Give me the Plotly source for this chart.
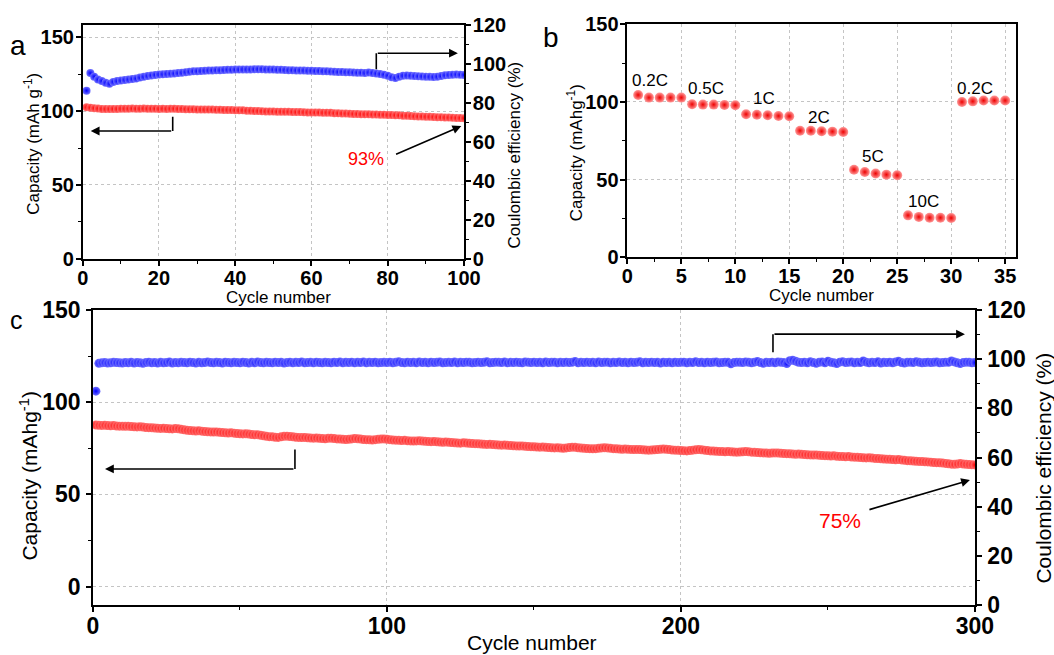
import plotly.graph_objects as go

# ---------------- data ----------------
# (a) 100-cycle test: discharge capacity (mAh/g) and coulombic efficiency (%)
cap_a = [
    102.6, 102.3, 102.0, 101.7, 101.5, 101.4, 101.4, 101.5, 101.5, 101.6,
    101.6, 101.6, 101.7, 101.6, 101.6, 101.7, 101.6, 101.6, 101.6, 101.5,
    101.6, 101.5, 101.6, 101.6, 101.5, 101.4, 101.3, 101.2, 101.2, 101.1,
    101.1, 101.0, 101.0, 101.0, 100.9, 100.9, 100.8, 100.8, 100.7, 100.6,
    100.5, 100.5, 100.3, 100.2, 100.1, 100.0, 99.9, 99.8, 99.8, 99.7,
    99.6, 99.6, 99.5, 99.5, 99.4, 99.3, 99.3, 99.2, 99.1, 99.1,
    99.0, 99.0, 98.9, 98.9, 98.8, 98.6, 98.5, 98.4, 98.3, 98.2,
    98.1, 98.0, 97.9, 97.8, 97.8, 97.7, 97.7, 97.6, 97.5, 97.4,
    97.3, 97.2, 97.1, 96.9, 96.8, 96.7, 96.5, 96.4, 96.3, 96.2,
    96.1, 96.0, 95.9, 95.8, 95.7, 95.6, 95.5, 95.4, 95.3, 95.2,
]
ce_a = [
    86.3, 95.3, 93.5, 92.0, 91.2, 90.3, 89.8, 90.8, 91.2, 91.5,
    91.8, 92.0, 92.3, 92.5, 93.0, 93.4, 93.8, 94.1, 94.4, 94.6,
    94.7, 94.9, 95.0, 95.1, 95.3, 95.5, 95.8, 96.0, 96.2, 96.3,
    96.4, 96.5, 96.6, 96.7, 96.8, 96.8, 96.9, 97.0, 97.0, 97.1,
    97.1, 97.2, 97.2, 97.2, 97.3, 97.3, 97.3, 97.2, 97.2, 97.1,
    97.0, 97.0, 96.9, 96.8, 96.8, 96.7, 96.7, 96.6, 96.5, 96.5,
    96.4, 96.4, 96.3, 96.2, 96.1, 96.0, 95.9, 95.9, 95.8, 95.7,
    95.6, 95.5, 95.5, 95.4, 95.6, 95.4, 95.1, 94.8, 94.5, 94.0,
    93.2, 92.8, 93.5, 94.0, 94.1, 94.0, 93.8, 93.7, 93.6, 93.5,
    93.4, 93.3, 93.5, 93.8, 94.2, 94.4, 94.5, 94.6, 94.5, 94.4,
]
cycles_a = list(range(1, len(cap_a) + 1))

# (b) rate capability, 5 cycles per C-rate
cap_b = [
    104.5, 102.8, 102.8, 102.8, 102.8,
    98.5, 98.3, 98.3, 98.1, 97.9,
    92.1, 91.8, 91.4, 91.0, 90.8,
    81.5, 81.5, 81.1, 80.9, 80.7,
    56.4, 54.9, 53.9, 53.2, 52.8,
    27.0, 26.0, 25.5, 25.5, 25.3,
    100.0, 100.4, 100.9, 100.9, 100.9,
]
cycles_b = list(range(1, len(cap_b) + 1))
rate_labels = ["0.2C", "0.5C", "1C", "2C", "5C", "10C", "0.2C"]
rate_label_x = [2.1, 7.3, 12.7, 17.8, 22.8, 27.4, 32.2]
rate_label_y = [114, 108.8, 102.4, 90.1, 64.8, 35.8, 108.8]

# (c) 300-cycle test: capacity (mAh/g) and coulombic efficiency (%)
cap_c = [
    87.6, 87.5, 87.4, 87.5, 87.3, 87.2, 87.3, 87.1, 87.0, 87.0,
    86.9, 87.0, 86.8, 86.7, 86.6, 86.7, 86.5, 86.3, 86.2, 86.1,
    86.0, 85.9, 85.8, 85.9, 85.7, 85.6, 85.5, 85.7, 85.6, 85.3,
    85.0, 84.8, 84.6, 84.5, 84.4, 84.5, 84.3, 84.1, 84.0, 83.9,
    83.8, 83.9, 83.7, 83.5, 83.4, 83.3, 83.4, 83.2, 83.0, 82.9,
    82.8, 82.9, 82.7, 82.5, 82.3, 82.4, 82.1, 81.8, 81.5, 81.3,
    81.2, 81.0, 80.9, 81.2, 81.5, 81.6, 81.4, 81.2, 81.0, 80.9,
    80.8, 80.9, 80.7, 80.6, 80.5, 80.6, 80.4, 80.3, 80.2, 80.4,
    80.5, 80.3, 80.1, 80.0, 79.9, 79.8, 79.9, 80.1, 80.3, 80.2,
    80.0, 79.8, 79.7, 79.6, 79.5, 79.7, 79.9, 80.0, 80.1, 79.9,
    79.7, 79.5, 79.4, 79.3, 79.2, 79.3, 79.1, 79.0, 78.9, 79.0,
    79.1, 78.9, 78.8, 78.7, 78.6, 78.7, 78.5, 78.4, 78.3, 78.4,
    78.3, 78.1, 78.0, 77.9, 77.8, 78.0, 77.9, 77.7, 77.6, 77.5,
    77.4, 77.3, 77.2, 77.1, 77.2, 77.0, 76.9, 76.8, 76.7, 76.8,
    76.6, 76.5, 76.4, 76.3, 76.2, 76.3, 76.1, 76.0, 75.9, 75.8,
    75.7, 75.6, 75.7, 75.5, 75.4, 75.3, 75.2, 75.3, 75.1, 75.0,
    75.2, 75.4, 75.6, 75.5, 75.3, 75.1, 75.0, 74.9, 74.8, 74.7,
    74.8, 75.0, 75.2, 75.3, 75.2, 75.0, 74.8, 74.7, 74.6, 74.5,
    74.6, 74.5, 74.4, 74.3, 74.4, 74.3, 74.2, 74.1, 74.0, 74.1,
    74.2, 74.3, 74.5, 74.6, 74.5, 74.3, 74.1, 74.0, 73.9, 73.8,
    73.7, 73.6, 73.8, 74.0, 74.2, 74.3, 74.2, 74.0, 73.8, 73.6,
    73.5, 73.4, 73.3, 73.2, 73.1, 73.2, 73.1, 73.0, 72.9, 73.0,
    73.1, 73.2, 73.1, 72.9, 72.8, 72.7, 72.6, 72.5, 72.4, 72.3,
    72.4, 72.5, 72.4, 72.3, 72.2, 72.1, 72.0, 71.9, 71.8, 71.9,
    71.8, 71.6, 71.5, 71.4, 71.3, 71.4, 71.2, 71.1, 71.0, 70.9,
    70.8, 70.9, 70.7, 70.6, 70.5, 70.4, 70.5, 70.3, 70.2, 70.1,
    70.0, 69.9, 69.8, 69.9, 69.7, 69.5, 69.4, 69.3, 69.2, 69.1,
    69.0, 68.9, 68.8, 68.9, 68.7, 68.5, 68.3, 68.2, 68.1, 68.0,
    67.9, 67.8, 67.7, 67.6, 67.5, 67.3, 67.2, 67.1, 67.0, 66.8,
    66.6, 66.4, 66.3, 66.5, 66.7, 66.5, 66.3, 66.2, 66.1, 66.0,
]
ce_c = [
    87.0, 98.3, 98.5, 98.6, 98.4, 98.5, 98.7, 98.6, 98.5, 98.4,
    98.6, 98.5, 98.7, 98.4, 98.6, 98.5, 98.3, 98.6, 98.8, 98.5,
    98.6, 98.4, 98.7, 98.5, 98.6, 98.9, 98.4, 98.6, 98.5, 98.7,
    98.6, 98.5, 98.8, 98.6, 98.4, 98.7, 98.5, 98.6, 98.9, 98.6,
    98.5, 98.7, 98.6, 98.4, 98.8, 98.6, 98.5, 98.7, 98.6, 98.5,
    98.8, 98.6, 98.4, 98.7, 98.5, 98.9, 98.6, 98.5, 98.7, 98.6,
    98.5, 98.8, 98.6, 98.7, 98.4, 98.6, 98.8, 98.5, 98.7, 98.6,
    98.9, 98.5, 98.6, 98.7, 98.5, 98.8, 98.6, 98.5, 98.7, 98.6,
    98.5, 98.8, 98.6, 98.9, 98.5, 98.7, 98.6, 98.8, 98.5, 98.7,
    98.6, 98.9, 98.5, 98.7, 98.6, 98.8, 98.5, 98.6, 98.7, 98.6,
    98.8, 98.5, 98.7, 99.0, 98.6, 98.5, 98.8, 98.6, 98.7, 98.5,
    98.9, 98.6, 98.7, 98.5, 98.8, 98.6, 98.7, 98.9, 98.5, 98.6,
    98.7, 98.6, 98.9, 98.5, 98.7, 98.6, 98.8, 98.7, 98.5, 98.6,
    98.8, 98.6, 98.7, 99.0, 98.5, 98.6, 98.8, 98.7, 98.6, 98.9,
    98.5, 98.7, 98.6, 98.8, 98.6, 98.5, 98.9, 98.7, 98.6, 98.8,
    98.6, 98.7, 98.5, 98.9, 98.6, 98.7, 98.8, 98.5, 98.7, 98.6,
    98.8, 98.6, 98.7, 99.1, 98.5, 98.7, 98.6, 98.8, 98.6, 98.7,
    98.5, 98.9, 98.6, 98.7, 98.8, 98.5, 98.7, 98.6, 98.9, 98.6,
    98.7, 98.5, 98.8, 98.6, 98.7, 99.0, 98.5, 98.7, 98.6, 98.8,
    98.6, 98.7, 98.4, 98.8, 98.6, 98.7, 98.5, 98.8, 98.6, 98.7,
    98.8, 98.5, 98.7, 98.6, 99.0, 98.6, 98.7, 98.5, 98.8, 98.6,
    98.7, 98.9, 98.5, 98.6, 98.8, 98.7, 98.1, 98.6, 98.8, 98.7,
    98.6, 98.9, 98.7, 98.5, 98.8, 99.1, 98.6, 98.3, 98.7, 98.6,
    98.8, 98.5, 98.9, 98.7, 98.6, 98.2, 99.4, 99.6, 99.2, 98.7,
    98.6, 98.8, 98.5, 99.0, 98.6, 98.3, 98.7, 98.9, 98.5, 99.2,
    98.7, 98.5, 98.2, 98.8, 99.0, 98.6, 98.7, 98.9, 98.5, 98.7,
    98.6, 99.3, 98.8, 98.5, 98.7, 98.6, 99.0, 98.4, 98.7, 98.6,
    98.8, 98.5, 98.9, 99.2, 98.6, 98.4, 98.7, 98.8, 98.6, 99.0,
    98.7, 98.5, 98.6, 98.8, 98.6, 98.7, 98.9, 98.5, 98.6, 98.8,
    98.7, 99.3, 98.9, 98.5, 98.2, 98.6, 98.8, 98.7, 98.5, 98.6,
]
cycles_c = list(range(1, len(cap_c) + 1))

# ---------------- styling helpers ----------------
FONT = "Liberation Sans"
RED = "#ff0000"
BLUE = "#0000ff"
GRID = dict(showgrid=True, gridcolor="#c4c4c4", gridwidth=1, griddash="dot")


def ball(color, edge, size):
    return dict(symbol="circle", size=size, color=color,
                gradient=dict(type="radial", color=edge), line=dict(width=0))


def label_axis(size, standoff, grid=True, **kw):
    # axis carrying the line, the tick labels and the dotted grid (no tick marks,
    # so the labels sit tight against the axis)
    base = dict(
        showline=True, linecolor="black", linewidth=1.6, ticks="",
        ticklabelstandoff=standoff,
        tickfont=dict(family=FONT, size=size, color="black", weight="bold"),
        zeroline=False, showgrid=False, layer="above traces", automargin=False,
    )
    if grid:
        base.update(GRID)
    base.update(kw)
    return base


def tick_axis(minor_dtick, **kw):
    # companion axis that only draws the outward major/minor tick marks
    base = dict(
        showline=False, showticklabels=False, showgrid=False, zeroline=False,
        ticks="outside", ticklen=6, tickwidth=1.6, tickcolor="black",
        minor=dict(ticks="outside", ticklen=4, tickwidth=1.2, tickcolor="black",
                   dtick=minor_dtick, showgrid=False),
        automargin=False, layer="above traces",
    )
    base.update(kw)
    return base


fig = go.Figure()

# panel a
fig.add_trace(go.Scatter(x=cycles_a, y=cap_a, mode="markers", xaxis="x", yaxis="y",
                         marker=ball("#ff7070", RED, 8)))
fig.add_trace(go.Scatter(x=cycles_a, y=ce_a, mode="markers", xaxis="x", yaxis="y2",
                         marker=ball("#7070ff", BLUE, 8)))
# panel b
fig.add_trace(go.Scatter(x=cycles_b, y=cap_b, mode="markers", xaxis="x2", yaxis="y3",
                         marker=ball("#ff9a9a", "#ee0000", 10)))
# panel c
fig.add_trace(go.Scatter(x=cycles_c, y=cap_c, mode="markers", xaxis="x3", yaxis="y4",
                         marker=ball("#ff7070", RED, 9)))
fig.add_trace(go.Scatter(x=cycles_c, y=ce_c, mode="markers", xaxis="x3", yaxis="y5",
                         marker=ball("#7070ff", BLUE, 9)))

# transparent carriers so the tick-mark axes get their own (overlaid) subplots
for xs, ys, xa, ya in [
    (cycles_a, cap_a, "x4", "y6"),
    (cycles_a, ce_a, "x4", "y7"),
    (cycles_b, cap_b, "x5", "y8"),
    (cycles_c, cap_c, "x6", "y9"),
    (cycles_c, ce_c, "x6", "y10"),
]:
    fig.add_trace(go.Scatter(x=xs, y=ys, mode="markers", xaxis=xa, yaxis=ya,
                             marker=dict(size=1, opacity=0), hoverinfo="skip"))

# domains / ranges of the three panels
XA_DOM, YA_DOM = [0.0785, 0.4402], [0.605, 0.9618]
XB_DOM, YB_DOM = [0.5952, 0.9639], [0.6072, 0.9629]
XC_DOM, YC_DOM = [0.0882, 0.9250], [0.0763, 0.5267]
XA_R, YA_R, YA2_R = [0, 100], [0, 158.3], [0, 120]
XB_R, YB_R = [0, 36], [0, 150]
XC_R, YC_R, YC2_R = [0, 300], [-10, 150], [0, 120]

W, H = 1054, 655
fig.update_layout(
    template="none",
    width=W, height=H, margin=dict(l=0, r=0, t=0, b=0, pad=0),
    paper_bgcolor="white", plot_bgcolor="white", showlegend=False,
    # (a)
    xaxis=label_axis(20, 0, domain=XA_DOM, range=XA_R, dtick=20, tick0=0,
                     mirror=True, anchor="y"),
    yaxis=label_axis(20, 3, domain=YA_DOM, range=YA_R, dtick=50, tick0=0,
                     anchor="x", mirror=True),
    yaxis2=label_axis(20, 3, grid=False, domain=YA_DOM, range=YA2_R, dtick=20, tick0=0,
                      anchor="x", overlaying="y", side="right"),
    xaxis4=tick_axis(10, domain=XA_DOM, range=XA_R, dtick=20, tick0=0,
                     anchor="y", overlaying="x", side="bottom"),
    yaxis6=tick_axis(25, domain=YA_DOM, range=YA_R, dtick=50, tick0=0,
                     anchor="x", overlaying="y", side="left"),
    yaxis7=tick_axis(10, domain=YA_DOM, range=YA2_R, dtick=20, tick0=0,
                     anchor="x", overlaying="y", side="right"),
    # (b)
    xaxis2=label_axis(20, 0, domain=XB_DOM, range=XB_R, dtick=5, tick0=0,
                      anchor="y3", mirror=True),
    yaxis3=label_axis(20, 3, domain=YB_DOM, range=YB_R, dtick=50, tick0=0,
                      anchor="x2", mirror=True),
    xaxis5=tick_axis(2.5, domain=XB_DOM, range=XB_R, dtick=5, tick0=0,
                     anchor="y3", overlaying="x2", side="bottom"),
    yaxis8=tick_axis(25, domain=YB_DOM, range=YB_R, dtick=50, tick0=0,
                     anchor="x2", overlaying="y3", side="left"),
    # (c)
    xaxis3=label_axis(23, 0, domain=XC_DOM, range=XC_R, dtick=100, tick0=0,
                      anchor="y4", mirror=True),
    yaxis4=label_axis(23, 6, domain=YC_DOM, range=YC_R, dtick=50, tick0=0,
                      anchor="x3", mirror=True),
    yaxis5=label_axis(23, 6, grid=False, domain=YC_DOM, range=YC2_R, dtick=20, tick0=0,
                      anchor="x3", overlaying="y4", side="right"),
    xaxis6=tick_axis(50, domain=XC_DOM, range=XC_R, dtick=100, tick0=0,
                     anchor="y4", overlaying="x3", side="bottom"),
    yaxis9=tick_axis(25, domain=YC_DOM, range=YC_R, dtick=50, tick0=0,
                     anchor="x3", overlaying="y4", side="left"),
    yaxis10=tick_axis(10, domain=YC_DOM, range=YC2_R, dtick=20, tick0=0,
                      anchor="x3", overlaying="y4", side="right"),
)

ann = []
shapes = []


def text_paper(txt, x, y, size, angle=0, color="black"):
    ann.append(dict(text=txt, x=x, y=y, xref="paper", yref="paper", showarrow=False,
                    textangle=angle, xanchor="center", yanchor="middle",
                    font=dict(family=FONT, size=size, color=color)))


# axis titles and panel letters
text_paper("Capacity (mAh g<sup>-1</sup>)", 0.030, 0.780, 17, -90)
text_paper("Coulombic efficiency (%)", 0.4880, 0.763, 17, -90)
text_paper("Cycle number", 0.264, 0.546, 17)
text_paper("Capacity (mAhg<sup>-1</sup>)", 0.5456, 0.766, 17, -90)
text_paper("Cycle number", 0.7796, 0.549, 17)
text_paper("Capacity (mAhg<sup>-1</sup>)", 0.0266, 0.2725, 21, -90)
text_paper("Coulombic efficiency (%)", 0.9896, 0.2847, 21, -90)
text_paper("Cycle number", 0.5047, 0.0198, 21)
text_paper("a", 0.0171, 0.931, 28)
text_paper("b", 0.5228, 0.942, 28)
text_paper("c", 0.0161, 0.5115, 25)

# C-rate labels in panel b
for lab, lx, ly in zip(rate_labels, rate_label_x, rate_label_y):
    ann.append(dict(text=lab, x=lx, y=ly, xref="x2", yref="y3", showarrow=False,
                    font=dict(family=FONT, size=17, color="black")))


def elbow(xr, yr, xv, y_from, y_to, x_tip):
    # vertical stem, then a horizontal arrow pointing at the relevant axis
    shapes.append(dict(type="line", xref=xr, yref=yr, x0=xv, x1=xv, y0=y_from, y1=y_to,
                       line=dict(color="black", width=1.6)))
    ann.append(dict(text="", x=x_tip, y=y_to, ax=xv, ay=y_to, xref=xr, yref=yr,
                    axref=xr, ayref=yr, showarrow=True, arrowhead=2, arrowsize=1.1,
                    arrowwidth=1.6, arrowcolor="black"))


def pointer(xr, yr, x0, y0, x1, y1):
    ann.append(dict(text="", x=x1, y=y1, ax=x0, ay=y0, xref=xr, yref=yr,
                    axref=xr, ayref=yr, showarrow=True, arrowhead=2, arrowsize=1.1,
                    arrowwidth=1.6, arrowcolor="black"))


elbow("x", "y", 23.6, 96.2, 86.5, 2.1)
elbow("x", "y", 77.0, 128.3, 139.2, 98.4)
pointer("x", "y", 81.8, 70.3, 99.3, 89.9)
ann.append(dict(text="93%", x=74.4, y=67.3, xref="x", yref="y", showarrow=False,
                font=dict(family=FONT, size=18, color=RED)))

elbow("x3", "y4", 68.7, 74.4, 63.8, 4.1)
elbow("x3", "y4", 231.3, 127.1, 136.9, 296.6)
pointer("x3", "y4", 263.6, 41.5, 298.3, 57.8)
ann.append(dict(text="75%", x=254, y=35.6, xref="x3", yref="y4", showarrow=False,
                font=dict(family=FONT, size=21, color=RED)))

fig.update_layout(annotations=ann, shapes=shapes)

fig.write_html(
    "out.html",
    config={"displayModeBar": False},
    post_script="document.body.style.margin='0px';document.body.style.overflow='hidden';",
)
